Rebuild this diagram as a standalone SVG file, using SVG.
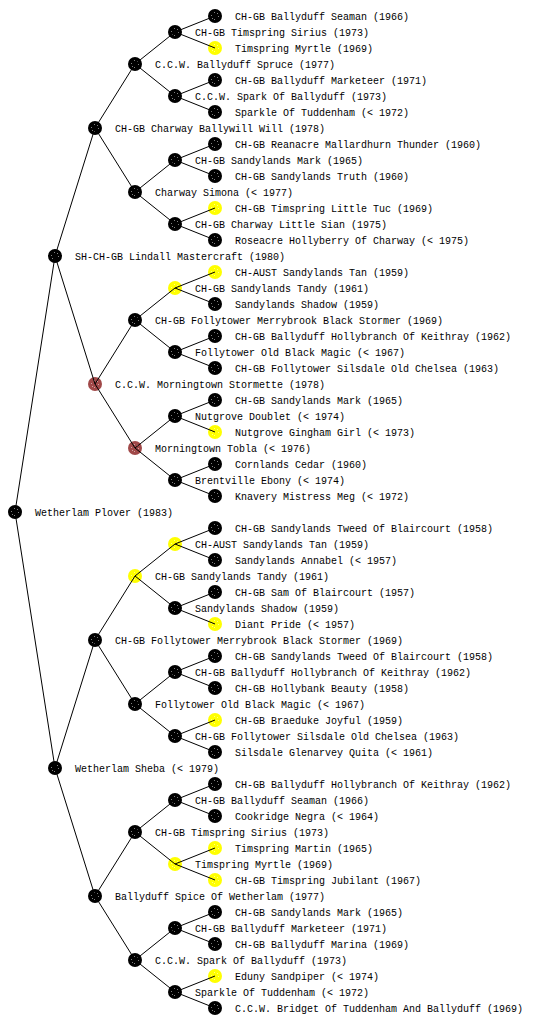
<svg xmlns="http://www.w3.org/2000/svg" width="560" height="1024" viewBox="0 0 560 1024">
<style>
text{font-family:"Liberation Mono","DejaVu Sans Mono",monospace;font-size:10px;fill:#000}
.c line{stroke:#000;stroke-width:1}
.k{color:#000}.y{color:#ffff00}.r{color:#a04848}
</style>
<defs>
<g id="n">
<circle r="7" fill="currentColor"/>
<g fill="#fff" opacity="0.5">
<rect x="-1" y="-4" width="1" height="1"/><rect x="3" y="0" width="1" height="1"/><rect x="-1" y="3" width="1" height="1"/><rect x="-4" y="-1" width="1" height="1"/><rect x="2" y="-3" width="1" height="1"/><rect x="-3" y="2" width="1" height="1"/>
</g>
</g>
</defs>
<rect width="560" height="1024" fill="#fff"/>
<g id="nodes">
<g id="n0"><use href="#n" x="15" y="512" class="k"/><text x="35" y="516">Wetherlam Plover (1983)</text></g>
<g id="n1"><use href="#n" x="55" y="256" class="k"/><text x="75" y="260">SH-CH-GB Lindall Mastercraft (1980)</text></g>
<g id="n2"><use href="#n" x="55" y="768" class="k"/><text x="75" y="772">Wetherlam Sheba (&lt; 1979)</text></g>
<g id="n3"><use href="#n" x="95" y="128" class="k"/><text x="115" y="132">CH-GB Charway Ballywill Will (1978)</text></g>
<g id="n4"><use href="#n" x="95" y="384" class="r"/><text x="115" y="388">C.C.W. Morningtown Stormette (1978)</text></g>
<g id="n5"><use href="#n" x="95" y="640" class="k"/><text x="115" y="644">CH-GB Follytower Merrybrook Black Stormer (1969)</text></g>
<g id="n6"><use href="#n" x="95" y="896" class="k"/><text x="115" y="900">Ballyduff Spice Of Wetherlam (1977)</text></g>
<g id="n7"><use href="#n" x="135" y="64" class="k"/><text x="155" y="68">C.C.W. Ballyduff Spruce (1977)</text></g>
<g id="n8"><use href="#n" x="135" y="192" class="k"/><text x="155" y="196">Charway Simona (&lt; 1977)</text></g>
<g id="n9"><use href="#n" x="135" y="320" class="k"/><text x="155" y="324">CH-GB Follytower Merrybrook Black Stormer (1969)</text></g>
<g id="n10"><use href="#n" x="135" y="448" class="r"/><text x="155" y="452">Morningtown Tobla (&lt; 1976)</text></g>
<g id="n11"><use href="#n" x="135" y="576" class="y"/><text x="155" y="580">CH-GB Sandylands Tandy (1961)</text></g>
<g id="n12"><use href="#n" x="135" y="704" class="k"/><text x="155" y="708">Follytower Old Black Magic (&lt; 1967)</text></g>
<g id="n13"><use href="#n" x="135" y="832" class="k"/><text x="155" y="836">CH-GB Timspring Sirius (1973)</text></g>
<g id="n14"><use href="#n" x="135" y="960" class="k"/><text x="155" y="964">C.C.W. Spark Of Ballyduff (1973)</text></g>
<g id="n15"><use href="#n" x="175" y="32" class="k"/><text x="195" y="36">CH-GB Timspring Sirius (1973)</text></g>
<g id="n16"><use href="#n" x="175" y="96" class="k"/><text x="195" y="100">C.C.W. Spark Of Ballyduff (1973)</text></g>
<g id="n17"><use href="#n" x="175" y="160" class="k"/><text x="195" y="164">CH-GB Sandylands Mark (1965)</text></g>
<g id="n18"><use href="#n" x="175" y="224" class="k"/><text x="195" y="228">CH-GB Charway Little Sian (1975)</text></g>
<g id="n19"><use href="#n" x="175" y="288" class="y"/><text x="195" y="292">CH-GB Sandylands Tandy (1961)</text></g>
<g id="n20"><use href="#n" x="175" y="352" class="k"/><text x="195" y="356">Follytower Old Black Magic (&lt; 1967)</text></g>
<g id="n21"><use href="#n" x="175" y="416" class="k"/><text x="195" y="420">Nutgrove Doublet (&lt; 1974)</text></g>
<g id="n22"><use href="#n" x="175" y="480" class="k"/><text x="195" y="484">Brentville Ebony (&lt; 1974)</text></g>
<g id="n23"><use href="#n" x="175" y="544" class="y"/><text x="195" y="548">CH-AUST Sandylands Tan (1959)</text></g>
<g id="n24"><use href="#n" x="175" y="608" class="k"/><text x="195" y="612">Sandylands Shadow (1959)</text></g>
<g id="n25"><use href="#n" x="175" y="672" class="k"/><text x="195" y="676">CH-GB Ballyduff Hollybranch Of Keithray (1962)</text></g>
<g id="n26"><use href="#n" x="175" y="736" class="k"/><text x="195" y="740">CH-GB Follytower Silsdale Old Chelsea (1963)</text></g>
<g id="n27"><use href="#n" x="175" y="800" class="k"/><text x="195" y="804">CH-GB Ballyduff Seaman (1966)</text></g>
<g id="n28"><use href="#n" x="175" y="864" class="y"/><text x="195" y="868">Timspring Myrtle (1969)</text></g>
<g id="n29"><use href="#n" x="175" y="928" class="k"/><text x="195" y="932">CH-GB Ballyduff Marketeer (1971)</text></g>
<g id="n30"><use href="#n" x="175" y="992" class="k"/><text x="195" y="996">Sparkle Of Tuddenham (&lt; 1972)</text></g>
<g id="n31"><use href="#n" x="215" y="16" class="k"/><text x="235" y="20">CH-GB Ballyduff Seaman (1966)</text></g>
<g id="n32"><use href="#n" x="215" y="48" class="y"/><text x="235" y="52">Timspring Myrtle (1969)</text></g>
<g id="n33"><use href="#n" x="215" y="80" class="k"/><text x="235" y="84">CH-GB Ballyduff Marketeer (1971)</text></g>
<g id="n34"><use href="#n" x="215" y="112" class="k"/><text x="235" y="116">Sparkle Of Tuddenham (&lt; 1972)</text></g>
<g id="n35"><use href="#n" x="215" y="144" class="k"/><text x="235" y="148">CH-GB Reanacre Mallardhurn Thunder (1960)</text></g>
<g id="n36"><use href="#n" x="215" y="176" class="k"/><text x="235" y="180">CH-GB Sandylands Truth (1960)</text></g>
<g id="n37"><use href="#n" x="215" y="208" class="y"/><text x="235" y="212">CH-GB Timspring Little Tuc (1969)</text></g>
<g id="n38"><use href="#n" x="215" y="240" class="k"/><text x="235" y="244">Roseacre Hollyberry Of Charway (&lt; 1975)</text></g>
<g id="n39"><use href="#n" x="215" y="272" class="y"/><text x="235" y="276">CH-AUST Sandylands Tan (1959)</text></g>
<g id="n40"><use href="#n" x="215" y="304" class="k"/><text x="235" y="308">Sandylands Shadow (1959)</text></g>
<g id="n41"><use href="#n" x="215" y="336" class="k"/><text x="235" y="340">CH-GB Ballyduff Hollybranch Of Keithray (1962)</text></g>
<g id="n42"><use href="#n" x="215" y="368" class="k"/><text x="235" y="372">CH-GB Follytower Silsdale Old Chelsea (1963)</text></g>
<g id="n43"><use href="#n" x="215" y="400" class="k"/><text x="235" y="404">CH-GB Sandylands Mark (1965)</text></g>
<g id="n44"><use href="#n" x="215" y="432" class="y"/><text x="235" y="436">Nutgrove Gingham Girl (&lt; 1973)</text></g>
<g id="n45"><use href="#n" x="215" y="464" class="k"/><text x="235" y="468">Cornlands Cedar (1960)</text></g>
<g id="n46"><use href="#n" x="215" y="496" class="k"/><text x="235" y="500">Knavery Mistress Meg (&lt; 1972)</text></g>
<g id="n47"><use href="#n" x="215" y="528" class="k"/><text x="235" y="532">CH-GB Sandylands Tweed Of Blaircourt (1958)</text></g>
<g id="n48"><use href="#n" x="215" y="560" class="k"/><text x="235" y="564">Sandylands Annabel (&lt; 1957)</text></g>
<g id="n49"><use href="#n" x="215" y="592" class="k"/><text x="235" y="596">CH-GB Sam Of Blaircourt (1957)</text></g>
<g id="n50"><use href="#n" x="215" y="624" class="y"/><text x="235" y="628">Diant Pride (&lt; 1957)</text></g>
<g id="n51"><use href="#n" x="215" y="656" class="k"/><text x="235" y="660">CH-GB Sandylands Tweed Of Blaircourt (1958)</text></g>
<g id="n52"><use href="#n" x="215" y="688" class="k"/><text x="235" y="692">CH-GB Hollybank Beauty (1958)</text></g>
<g id="n53"><use href="#n" x="215" y="720" class="y"/><text x="235" y="724">CH-GB Braeduke Joyful (1959)</text></g>
<g id="n54"><use href="#n" x="215" y="752" class="k"/><text x="235" y="756">Silsdale Glenarvey Quita (&lt; 1961)</text></g>
<g id="n55"><use href="#n" x="215" y="784" class="k"/><text x="235" y="788">CH-GB Ballyduff Hollybranch Of Keithray (1962)</text></g>
<g id="n56"><use href="#n" x="215" y="816" class="k"/><text x="235" y="820">Cookridge Negra (&lt; 1964)</text></g>
<g id="n57"><use href="#n" x="215" y="848" class="y"/><text x="235" y="852">Timspring Martin (1965)</text></g>
<g id="n58"><use href="#n" x="215" y="880" class="y"/><text x="235" y="884">CH-GB Timspring Jubilant (1967)</text></g>
<g id="n59"><use href="#n" x="215" y="912" class="k"/><text x="235" y="916">CH-GB Sandylands Mark (1965)</text></g>
<g id="n60"><use href="#n" x="215" y="944" class="k"/><text x="235" y="948">CH-GB Ballyduff Marina (1969)</text></g>
<g id="n61"><use href="#n" x="215" y="976" class="y"/><text x="235" y="980">Eduny Sandpiper (&lt; 1974)</text></g>
<g id="n62"><use href="#n" x="215" y="1008" class="k"/><text x="235" y="1012">C.C.W. Bridget Of Tuddenham And Ballyduff (1969)</text></g>
</g>
<g id="connectors" class="c">
<line x1="15" y1="512" x2="55" y2="256"/><line x1="15" y1="512" x2="55" y2="768"/>
<line x1="55" y1="256" x2="95" y2="128"/><line x1="55" y1="256" x2="95" y2="384"/>
<line x1="55" y1="768" x2="95" y2="640"/><line x1="55" y1="768" x2="95" y2="896"/>
<line x1="95" y1="128" x2="135" y2="64"/><line x1="95" y1="128" x2="135" y2="192"/>
<line x1="95" y1="384" x2="135" y2="320"/><line x1="95" y1="384" x2="135" y2="448"/>
<line x1="95" y1="640" x2="135" y2="576"/><line x1="95" y1="640" x2="135" y2="704"/>
<line x1="95" y1="896" x2="135" y2="832"/><line x1="95" y1="896" x2="135" y2="960"/>
<line x1="135" y1="64" x2="175" y2="32"/><line x1="135" y1="64" x2="175" y2="96"/>
<line x1="135" y1="192" x2="175" y2="160"/><line x1="135" y1="192" x2="175" y2="224"/>
<line x1="135" y1="320" x2="175" y2="288"/><line x1="135" y1="320" x2="175" y2="352"/>
<line x1="135" y1="448" x2="175" y2="416"/><line x1="135" y1="448" x2="175" y2="480"/>
<line x1="135" y1="576" x2="175" y2="544"/><line x1="135" y1="576" x2="175" y2="608"/>
<line x1="135" y1="704" x2="175" y2="672"/><line x1="135" y1="704" x2="175" y2="736"/>
<line x1="135" y1="832" x2="175" y2="800"/><line x1="135" y1="832" x2="175" y2="864"/>
<line x1="135" y1="960" x2="175" y2="928"/><line x1="135" y1="960" x2="175" y2="992"/>
<line x1="175" y1="32" x2="215" y2="16"/><line x1="175" y1="32" x2="215" y2="48"/>
<line x1="175" y1="96" x2="215" y2="80"/><line x1="175" y1="96" x2="215" y2="112"/>
<line x1="175" y1="160" x2="215" y2="144"/><line x1="175" y1="160" x2="215" y2="176"/>
<line x1="175" y1="224" x2="215" y2="208"/><line x1="175" y1="224" x2="215" y2="240"/>
<line x1="175" y1="288" x2="215" y2="272"/><line x1="175" y1="288" x2="215" y2="304"/>
<line x1="175" y1="352" x2="215" y2="336"/><line x1="175" y1="352" x2="215" y2="368"/>
<line x1="175" y1="416" x2="215" y2="400"/><line x1="175" y1="416" x2="215" y2="432"/>
<line x1="175" y1="480" x2="215" y2="464"/><line x1="175" y1="480" x2="215" y2="496"/>
<line x1="175" y1="544" x2="215" y2="528"/><line x1="175" y1="544" x2="215" y2="560"/>
<line x1="175" y1="608" x2="215" y2="592"/><line x1="175" y1="608" x2="215" y2="624"/>
<line x1="175" y1="672" x2="215" y2="656"/><line x1="175" y1="672" x2="215" y2="688"/>
<line x1="175" y1="736" x2="215" y2="720"/><line x1="175" y1="736" x2="215" y2="752"/>
<line x1="175" y1="800" x2="215" y2="784"/><line x1="175" y1="800" x2="215" y2="816"/>
<line x1="175" y1="864" x2="215" y2="848"/><line x1="175" y1="864" x2="215" y2="880"/>
<line x1="175" y1="928" x2="215" y2="912"/><line x1="175" y1="928" x2="215" y2="944"/>
<line x1="175" y1="992" x2="215" y2="976"/><line x1="175" y1="992" x2="215" y2="1008"/>
</g>
</svg>
